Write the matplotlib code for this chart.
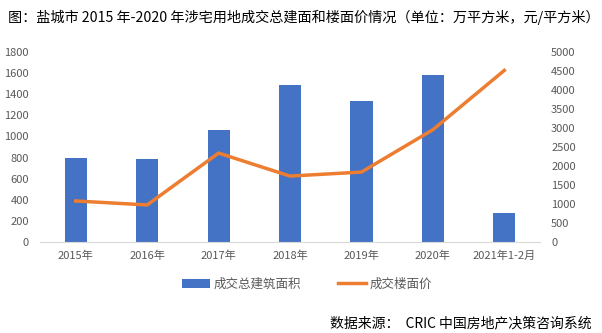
import numpy as np
import matplotlib.pyplot as plt

plt.rcParams['font.family'] = ['Noto Sans CJK SC', 'DejaVu Sans']

years = ['2015年', '2016年', '2017年', '2018年', '2019年', '2020年', '2021年1-2月']
area = [795, 787, 1060, 1487, 1336, 1582, 275]
price = [1080, 975, 2340, 1735, 1840, 2955, 4515]

fig = plt.figure(figsize=(6.02, 3.33), dpi=100)
ax = fig.add_axes([40/602, 1-242/333, 500/602, 190/333])
x = np.arange(len(years))
ax.bar(x, area, width=0.31, color='#4472c4', label='成交总建筑面积', zorder=2)
ax.set_xlim(-0.5, len(years)-0.5)
ax.set_ylim(0, 1800)
ax.set_yticks(np.arange(0, 1801, 200))
ax.set_xticks(x)
ax.set_xticklabels(years)

ax2 = ax.twinx()
ax2.plot(x, price, color='#ed7d31', linewidth=2.5, label='成交楼面价', zorder=3)
ax2.set_ylim(0, 5000)
ax2.set_yticks(np.arange(0, 5001, 500))

for a in (ax, ax2):
    for s in a.spines.values():
        s.set_visible(False)
    a.tick_params(length=0, labelsize=8, colors='#595959')
ax.spines['bottom'].set_visible(True)
ax.spines['bottom'].set_color('#d9d9d9')
ax.tick_params(axis='x', pad=6)
ax.tick_params(axis='y', pad=8)
ax2.tick_params(axis='y', pad=8)

h1, l1 = ax.get_legend_handles_labels()
h2, l2 = ax2.get_legend_handles_labels()
fig.legend(h1 + h2, l1 + l2, loc='center', bbox_to_anchor=(0.51, 1-284/333),
           ncol=2, frameon=False, fontsize=9, labelcolor='#595959',
           handlelength=2.2, handletextpad=0.3, columnspacing=3)

fig.text(8/602, 1-17/333, '图：盐城市 2015 年-2020 年涉宅用地成交总建面和楼面价情况（单位：万平方米，元/平方米）',
         fontsize=10.2, va='center', ha='left')
fig.text(592/602, 1-323/333, '数据来源：  CRIC 中国房地产决策咨询系统',
         fontsize=10, va='center', ha='right')

fig.savefig('out.png', dpi=100)
